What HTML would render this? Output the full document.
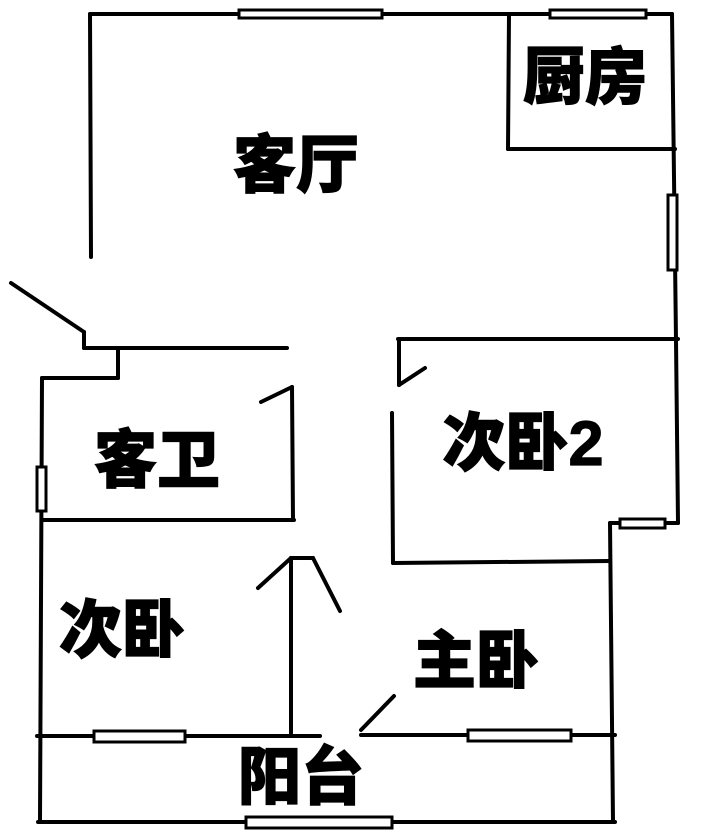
<!DOCTYPE html>
<html><head><meta charset="utf-8"><style>
html,body{margin:0;padding:0;background:#fff;}
svg{display:block}
text{font-family:"Liberation Sans","Noto Sans CJK SC",sans-serif;font-weight:900;fill:#000;stroke:#000;stroke-width:1.2;}
</style></head><body>
<svg width="713" height="832" viewBox="0 0 713 832" xmlns="http://www.w3.org/2000/svg">
<g stroke="#000" stroke-width="4" fill="none" stroke-linecap="round">
<line x1="90" y1="14" x2="672" y2="14"/>
<line x1="90" y1="14" x2="91" y2="257"/>
<line x1="509" y1="14" x2="508" y2="149"/>
<line x1="508" y1="149" x2="675" y2="149"/>
<line x1="672" y1="14" x2="676" y2="340"/>
<line x1="676" y1="340" x2="678" y2="523"/>
<line x1="11" y1="283" x2="84" y2="332"/>
<line x1="84" y1="332" x2="84" y2="348"/>
<line x1="84" y1="348" x2="287" y2="348"/>
<line x1="118" y1="348" x2="118" y2="378"/>
<line x1="42" y1="378" x2="118" y2="378"/>
<line x1="42" y1="378" x2="40" y2="822"/>
<line x1="42" y1="520" x2="294" y2="520"/>
<line x1="292" y1="387" x2="293" y2="520"/>
<line x1="261" y1="402" x2="292" y2="387"/>
<line x1="398" y1="339" x2="678" y2="339"/>
<line x1="399" y1="339" x2="399" y2="385"/>
<line x1="399" y1="385" x2="425" y2="368"/>
<line x1="392" y1="413" x2="393" y2="563"/>
<line x1="393" y1="563" x2="610" y2="561"/>
<line x1="610" y1="523" x2="678" y2="523"/>
<line x1="610" y1="523" x2="613" y2="822"/>
<line x1="291" y1="733" x2="291" y2="558"/>
<line x1="291" y1="558" x2="313" y2="558"/>
<line x1="258" y1="588" x2="291" y2="558"/>
<line x1="313" y1="558" x2="340" y2="611"/>
<line x1="361" y1="730" x2="394" y2="696"/>
<line x1="37" y1="736" x2="320" y2="736"/>
<line x1="361" y1="735" x2="615" y2="735"/>
<line x1="38" y1="822" x2="615" y2="822"/>
</g>
<g stroke="#000" stroke-width="3" fill="#fff">
<rect x="239" y="10" width="143" height="8"/>
<rect x="550" y="10" width="96" height="8"/>
<rect x="668" y="195" width="9" height="75"/>
<rect x="37" y="467" width="9" height="44"/>
<rect x="620" y="519" width="45" height="9"/>
<rect x="94" y="731" width="91" height="11"/>
<rect x="468" y="730" width="103" height="11"/>
<rect x="246" y="817" width="146" height="11"/>
</g>
<g font-size="63" text-anchor="middle" dominant-baseline="central">
<text x="296" y="166">客厅</text>
<text x="585" y="78" font-size="62">厨房</text>
<text x="157" y="461">客卫</text>
<text x="523" y="444">次卧2</text>
<text x="122" y="631">次卧</text>
<text x="476" y="662">主卧</text>
<text x="301" y="778">阳台</text>
</g>
</svg>
</body></html>
